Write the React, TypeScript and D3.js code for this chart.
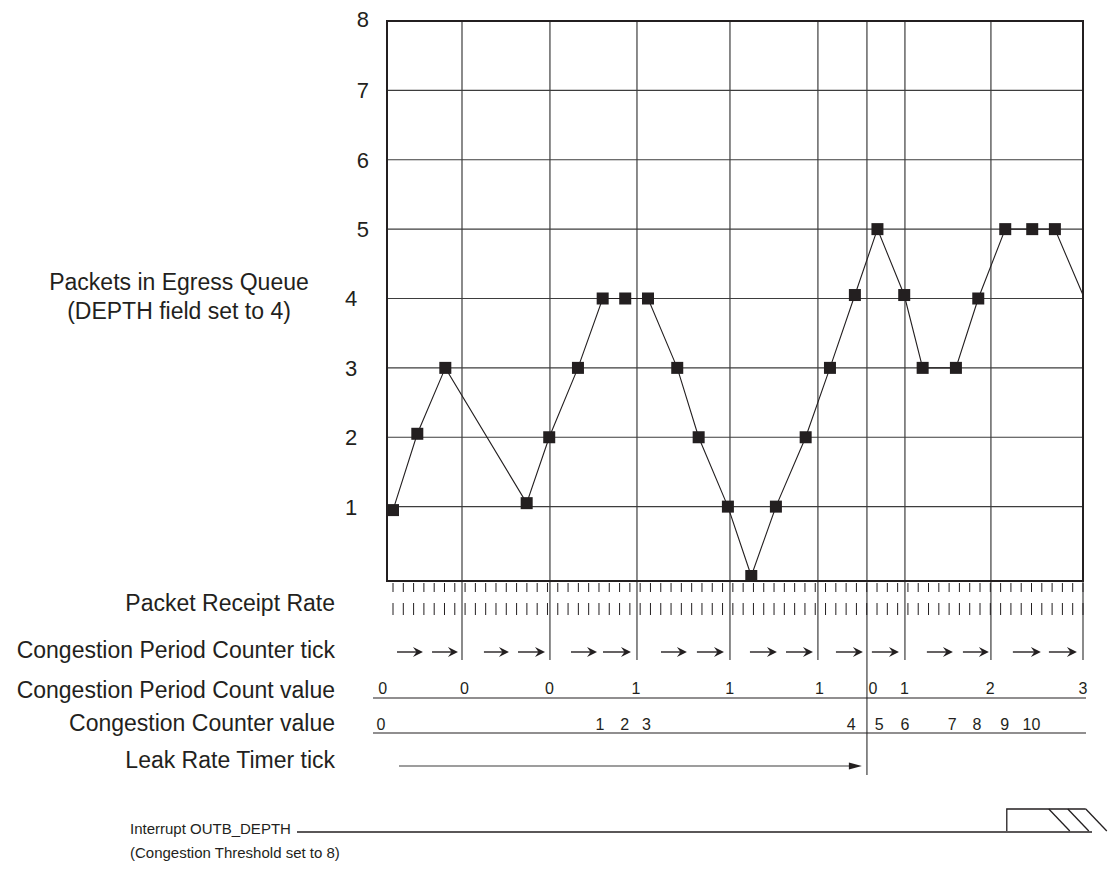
import React from "react";
import * as d3 from "d3";

// time axis is in "Packet Receipt Rate" tick units (0..67)
const pointTimes = [0, 2.36, 5.08, 12.98, 15.17, 17.96, 20.36, 22.55, 24.76, 27.6, 29.68, 32.52, 34.79, 37.18, 40.07, 42.43, 44.85, 47.04, 49.64, 51.43, 54.66, 56.83, 59.45, 62.07, 64.27];
const pointValues = [0.95, 2.05, 3, 1.05, 2, 3, 4, 4, 4, 3, 2, 1, 0, 1, 2, 3, 4.05, 5, 4.05, 3, 3, 4, 5, 5, 5];
const lineEndTime = 67;
const lineEndValue = 4.05;

const yTickValues = [1, 2, 3, 4, 5, 6, 7, 8];
const periodGridTimes = [6.7, 15.24, 23.69, 32.72, 41.26, 49.71, 58.06];
const leakTimerTime = 46.02;

const arrowStarts = [0.39, 3.79, 8.83, 12.14, 17.28, 20.39, 26.02, 29.51, 34.66, 38.16, 43.01, 46.5, 51.84, 55.34, 60.19, 63.69];
const arrowEnds = [2.91, 6.31, 11.26, 14.76, 19.81, 23.11, 28.54, 32.14, 37.28, 40.78, 45.63, 49.13, 54.37, 57.86, 62.91, 66.41];

const periodCountTimes = [-1, 6.94, 15.19, 23.6, 32.7, 41.4, 46.6, 49.66, 58.0, 67];
const periodCountLabels = ["0", "0", "0", "1", "1", "1", "0", "1", "2", "3"];

const counterTimes = [-1.17, 20.1, 22.5, 24.6, 44.5, 47.2, 49.7, 54.3, 56.7, 59.4, 62.0];
const counterLabels = ["0", "1", "2", "3", "4", "5", "6", "7", "8", "9", "10"];

const leakArrowStart = 0.58;
const leakArrowEnd = 45.53;
const interruptRiseTime = 59.6;

const rowLabels = [
  "Packet Receipt Rate",
  "Congestion Period Counter tick",
  "Congestion Period Count value",
  "Congestion Counter value",
  "Leak Rate Timer tick",
];

const INK = "#231f20";
const GRID = "#3d3d3d";
const FONT = "'Liberation Sans', Arial, Helvetica, sans-serif";

export default function App() {
  const W = 1113;
  const H = 873;
  const x = d3.scaleLinear().domain([0, 67]).range([393, 1083]);
  const y = d3.scaleLinear().domain([0, 8]).range([576, 21]);
  const left = 387;
  const right = x(67);
  const top = 21;
  const bottom = 581;
  const tickIdx = d3.range(0, 68);

  const linePts: [number, number][] = pointTimes.map((t, i) => [t, pointValues[i]]);
  linePts.push([lineEndTime, lineEndValue]);
  const line = d3
    .line<[number, number]>()
    .x((d) => x(d[0]))
    .y((d) => y(d[1]));

  const rowY = [603, 650, 690, 723, 760];
  const arrowY = 652;
  const sq = 12;

  const chevron = (xe: number, yc: number) =>
    `M${xe - 10},${yc - 5} L${xe},${yc} L${xe - 10},${yc + 5} L${xe - 6.5},${yc} Z`;

  const lowY = 832;
  const highY = 809;
  const xr = x(interruptRiseTime);

  return (
    <svg width={W} height={H} style={{ display: "block", position: "absolute", left: 0, top: 0 }} fontFamily={FONT}>
      <rect width={W} height={H} fill="#fff" />
      {/* horizontal grid */}
      {yTickValues.slice(0, -1).map((v) => (
        <line key={"h" + v} x1={left} x2={right} y1={y(v)} y2={y(v)} stroke={GRID} strokeWidth={1.2} />
      ))}
      {/* vertical grid, extending through tick rows */}
      {periodGridTimes.map((t) => (
        <line key={"v" + t} x1={x(t)} x2={x(t)} y1={top} y2={660} stroke={GRID} strokeWidth={1.2} />
      ))}
      <line x1={right} x2={right} y1={top} y2={660} stroke={GRID} strokeWidth={1.2} />
      <line x1={x(leakTimerTime)} x2={x(leakTimerTime)} y1={top} y2={775} stroke={GRID} strokeWidth={1.2} />
      {/* frame */}
      <rect x={left} y={top} width={right - left} height={bottom - top} fill="none" stroke={INK} strokeWidth={2} />
      {/* y labels */}
      {yTickValues.map((v) =>
        v >= 5 ? (
          <text key={"yl" + v} x={369} y={y(v) - (v === 8 ? 2 : 0)} dy="0.36em" textAnchor="end" fontSize={22} fill={INK}>
            {v}
          </text>
        ) : (
          <text key={"yl" + v} x={351} y={y(v)} dy="0.36em" textAnchor="middle" fontSize={22} fill={INK}>
            {v}
          </text>
        )
      )}
      {/* y title */}
      <text x={179} y={282} dy="0.36em" textAnchor="middle" fontSize={23} fill={INK}>
        Packets in Egress Queue
      </text>
      <text x={179} y={311} dy="0.36em" textAnchor="middle" fontSize={23} fill={INK}>
        (DEPTH field set to 4)
      </text>
      {/* data line */}
      <path d={line(linePts) || ""} fill="none" stroke={INK} strokeWidth={1.1} />
      {pointTimes.map((t, i) => (
        <rect
          key={"p" + i}
          x={x(t) - sq / 2}
          y={y(pointValues[i]) - sq / 2}
          width={sq}
          height={sq}
          fill={INK}
        />
      ))}
      {/* tick rows */}
      {tickIdx.map((i) => (
        <line key={"t1" + i} x1={x(i)} x2={x(i)} y1={583} y2={592} stroke={INK} strokeWidth={1} />
      ))}
      {tickIdx.map((i) => (
        <line key={"t2" + i} x1={x(i)} x2={x(i)} y1={603} y2={615} stroke={INK} strokeWidth={1} />
      ))}
      {/* congestion period counter tick arrows */}
      {arrowStarts.map((s, i) => (
        <g key={"a" + i}>
          <line x1={x(s)} x2={x(arrowEnds[i]) - 6} y1={arrowY} y2={arrowY} stroke={INK} strokeWidth={1.4} />
          <path d={chevron(x(arrowEnds[i]), arrowY)} fill={INK} />
        </g>
      ))}
      {/* row labels */}
      {rowLabels.map((l, i) => (
        <text key={"rl" + i} x={335} y={rowY[i]} dy="0.36em" textAnchor="end" fontSize={23} fill={INK}>
          {l}
        </text>
      ))}
      {/* period count values */}
      {periodCountTimes.map((t, i) => (
        <text key={"pc" + i} x={x(t)} y={688} dy="0.36em" textAnchor="middle" fontSize={16} fill={INK}>
          {periodCountLabels[i]}
        </text>
      ))}
      <line x1={373} x2={1086} y1={698} y2={698} stroke={INK} strokeWidth={1.2} />
      {/* congestion counter values */}
      {counterTimes.map((t, i) => (
        <text key={"cc" + i} x={x(t)} y={724} dy="0.36em" textAnchor="middle" fontSize={16} fill={INK}>
          {counterLabels[i]}
        </text>
      ))}
      <line x1={373} x2={1086} y1={733} y2={733} stroke={INK} strokeWidth={1.2} />
      {/* leak rate timer arrow */}
      <line x1={x(leakArrowStart)} x2={x(leakArrowEnd) - 10} y1={766} y2={766} stroke={GRID} strokeWidth={1.2} />
      <path
        d={`M${x(leakArrowEnd) - 13},${766 - 3.5} L${x(leakArrowEnd)},${766} L${x(leakArrowEnd) - 13},${766 + 3.5} Z`}
        fill={INK}
      />
      {/* interrupt */}
      <text x={130} y={829} dy="0.36em" textAnchor="start" fontSize={15} fill={INK}>
        Interrupt OUTB_DEPTH
      </text>
      <text x={130} y={853} dy="0.36em" textAnchor="start" fontSize={15} fill={INK}>
        (Congestion Threshold set to 8)
      </text>
      <line x1={297} x2={1092} y1={lowY} y2={lowY} stroke={INK} strokeWidth={1.3} />
      <path d={`M${xr},${lowY - 1} L${xr},${highY} L${xr + 79},${highY}`} fill="none" stroke={INK} strokeWidth={1.3} />
      {[42, 61, 79].map((o) => (
        <line key={"hz" + o} x1={xr + o} y1={highY} x2={xr + o + 21} y2={lowY - 1} stroke={INK} strokeWidth={1.3} />
      ))}
    </svg>
  );
}
